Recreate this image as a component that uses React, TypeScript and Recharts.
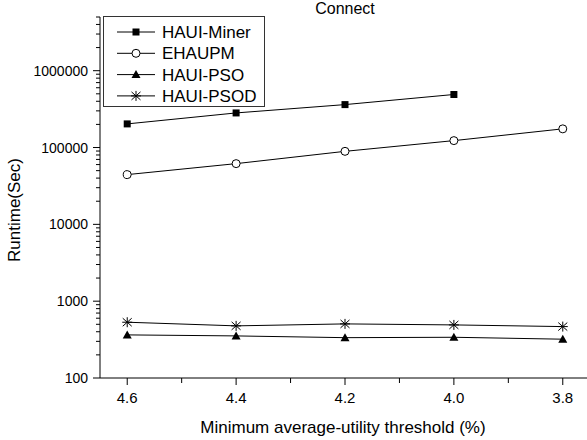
import React from 'react'
import { LineChart, Line, XAxis, YAxis, Legend, Customized } from 'recharts'

const thresholds = [4.6, 4.4, 4.2, 4.0, 3.8]
const hauiMiner = [203000, 282000, 362000, 490000, null]
const ehaupm = [44400, 61700, 89200, 123000, 175000]
const hauiPso = [364, 353, 335, 339, 320]
const hauiPsod = [532, 477, 506, 491, 467]

const xTicks = [4.6, 4.5, 4.4, 4.3, 4.2, 4.1, 4.0, 3.9, 3.8]
const yMajor = [100, 1000, 10000, 100000, 1000000]
const yTicks: number[] = []
yMajor.forEach((m) => {
  for (let k = 1; k <= 9; k++) {
    const v = m * k
    if (v <= 5000000) yTicks.push(v)
  }
})

const series = [
  { key: 'hauiMiner', name: 'HAUI-Miner', shape: 'square' },
  { key: 'ehaupm', name: 'EHAUPM', shape: 'circle' },
  { key: 'hauiPso', name: 'HAUI-PSO', shape: 'triangle' },
  { key: 'hauiPsod', name: 'HAUI-PSOD', shape: 'star' },
]

const data = thresholds.map((t, i) => ({
  threshold: t,
  hauiMiner: hauiMiner[i],
  ehaupm: ehaupm[i],
  hauiPso: hauiPso[i],
  hauiPsod: hauiPsod[i],
}))

const FONT = '"Liberation Sans", Arial, sans-serif'

function Marker({ shape, cx, cy }: { shape: string; cx: number; cy: number }) {
  if (cx == null || cy == null || isNaN(cx) || isNaN(cy)) return null
  if (shape === 'square') return <rect x={cx - 3.5} y={cy - 3.5} width={7} height={7} fill="#000" />
  if (shape === 'circle') return <circle cx={cx} cy={cy} r={4} fill="#fff" stroke="#000" strokeWidth={1} />
  if (shape === 'triangle')
    return <polygon points={`${cx},${cy - 4.5} ${cx + 4.5},${cy + 3.5} ${cx - 4.5},${cy + 3.5}`} fill="#000" />
  return (
    <g stroke="#000" strokeWidth={1}>
      <line x1={cx} y1={cy - 5} x2={cx} y2={cy + 5} />
      <line x1={cx - 4.5} y1={cy - 4} x2={cx + 4.5} y2={cy + 4} />
      <line x1={cx - 4.5} y1={cy + 4} x2={cx + 4.5} y2={cy - 4} />
      <line x1={cx - 5} y1={cy} x2={cx + 5} y2={cy} />
    </g>
  )
}

const XTick = (props: any) => {
  const { x, y, payload } = props
  const major = Math.round(payload.value * 10) % 2 === 0
  return (
    <g>
      <line x1={x} y1={y} x2={x} y2={y + (major ? 7 : 5)} stroke="#000" />
      {major && (
        <text x={x} y={y + 25} textAnchor="middle" fontSize={15} fontFamily={FONT} fill="#000">
          {payload.value.toFixed(1)}
        </text>
      )}
    </g>
  )
}

const YTick = (props: any) => {
  const { x, y, payload } = props
  const major = yMajor.includes(payload.value)
  return (
    <g>
      <line x1={x - (major ? 7 : 4)} y1={y} x2={x} y2={y} stroke="#000" />
      {major && (
        <text x={x - 12} y={y + 5} textAnchor="end" fontSize={14} fontFamily={FONT} fill="#000">
          {payload.value}
        </text>
      )}
    </g>
  )
}

const LegendBox = () => (
  <svg width={162} height={91} style={{ display: 'block' }}>
    <rect x={0.5} y={0.5} width={161} height={90} fill="#fff" stroke="#333" />
    {series.map((s, i) => {
      const cy = 16 + i * 21.3
      return (
        <g key={s.key}>
          <line x1={14} y1={cy} x2={52} y2={cy} stroke="#000" />
          <Marker shape={s.shape} cx={33} cy={cy} />
          <text x={59} y={cy + 6} fontSize={17} fontFamily={FONT} fill="#000">
            {s.name}
          </text>
        </g>
      )
    })}
  </svg>
)

export default function App() {
  return (
    <div style={{ position: 'absolute', left: 0, top: 0, width: 587, height: 440, overflow: 'hidden', background: '#fff' }}>
      <LineChart width={600} height={440} data={data} margin={{ top: 17, right: 10, bottom: 0, left: 0 }}>
        <XAxis
          type="number"
          dataKey="threshold"
          domain={[3.75, 4.65]}
          reversed
          ticks={xTicks}
          interval={0}
          tickSize={0}
          tickMargin={0}
          tick={XTick}
          axisLine={{ stroke: '#000' }}
          height={62}
          allowDataOverflow
          label={{
            content: () => (
              <text x={343} y={433} textAnchor="middle" fontSize={17} fontFamily={FONT} fill="#000">
                Minimum average-utility threshold (%)
              </text>
            ),
          }}
        />
        <YAxis
          scale="log"
          domain={[100, 5000000]}
          ticks={yTicks}
          interval={0}
          tickSize={0}
          tickMargin={0}
          tick={YTick}
          axisLine={{ stroke: '#000' }}
          width={100}
          allowDataOverflow
          label={{
            content: () => (
              <text x={20} y={210} transform="rotate(-90 20 210)" textAnchor="middle" fontSize={17} fontFamily={FONT} fill="#000">
                Runtime(Sec)
              </text>
            ),
          }}
        />
        <Legend
          layout="vertical"
          align="center"
          verticalAlign="middle"
          content={LegendBox}
          wrapperStyle={{ left: 103, top: 16, width: 162, height: 91 }}
        />
        <Customized
          component={() => (
            <text x={345} y={14} textAnchor="middle" fontSize={16} fontFamily={FONT} fill="#000">
              Connect
            </text>
          )}
        />
        {series.map((s) => (
          <Line
            key={s.key}
            dataKey={s.key}
            name={s.name}
            stroke="#000"
            strokeWidth={1}
            isAnimationActive={false}
            connectNulls={false}
            dot={(p: any) => <Marker key={`${s.key}-${p.index}`} shape={s.shape} cx={p.cx} cy={p.cy} />}
            activeDot={false}
          />
        ))}
      </LineChart>
    </div>
  )
}
